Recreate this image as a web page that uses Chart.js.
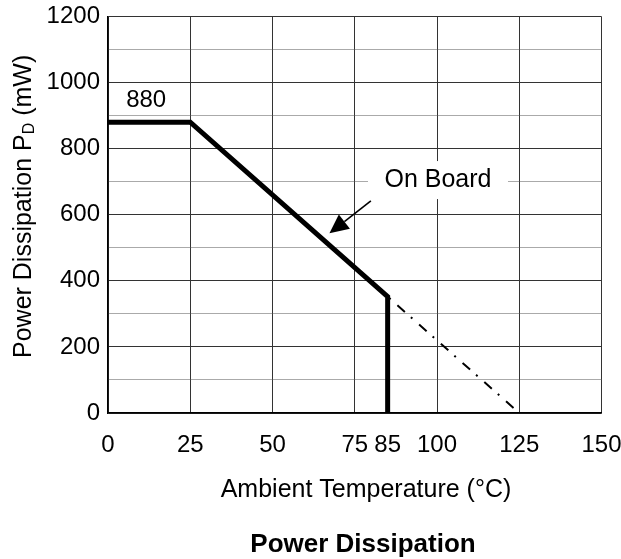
<!DOCTYPE html>
<html>
<head>
<meta charset="utf-8">
<script src="https://cdn.jsdelivr.net/npm/chart.js@4.4.0/dist/chart.umd.min.js"></script>
<style>
  html, body { margin: 0; padding: 0; background: #fff; }
  #wrap { width: 621px; height: 559px; position: relative; }
</style>
</head>
<body>
<div id="wrap"><canvas id="pdChart"></canvas></div>
<script>
const tempTicks = [0, 25, 50, 75, 85, 100, 125, 150];
const onBoardTemp = [0, 25, 85, 85];
const onBoardPower = [880, 880, 352, 0];
const deratingTemp = [85, 125];
const deratingPower = [352, 0];

const FONT = 'Liberation Sans, Arial, Helvetica, sans-serif';

// annotation anchors (data units)
const boardLabel = { text: 'On Board', x: 100.3, y: 705 };
const arrowFrom = { x: 79.9, y: 642 };
const arrowTo = { x: 67.3, y: 544 };
const peakLabel = { text: '880', x: 11.6, y: 945 };

const toPoints = (xs, ys) => xs.map((v, i) => ({ x: v, y: ys[i] }));

const textPlugin = {
    id: 'texts',
    afterDatasetsDraw(chart) {
        const { ctx, scales: { x, y } } = chart;
        ctx.save();
        ctx.fillStyle = '#000';
        ctx.strokeStyle = '#000';

        // On Board label with white box over the grid
        const bx = x.getPixelForValue(boardLabel.x);
        const by = y.getPixelForValue(boardLabel.y);
        ctx.fillStyle = '#fff';
        ctx.fillRect(bx - 70, by - 19, 140, 38);
        ctx.fillStyle = '#000';
        ctx.font = '25px ' + FONT;
        ctx.textAlign = 'center';
        ctx.textBaseline = 'middle';
        ctx.fillText(boardLabel.text, bx, by);

        // arrow
        const x1 = x.getPixelForValue(arrowFrom.x), y1 = y.getPixelForValue(arrowFrom.y);
        const x2 = x.getPixelForValue(arrowTo.x), y2 = y.getPixelForValue(arrowTo.y);
        const ang = Math.atan2(y2 - y1, x2 - x1);
        const headLen = 19, headW = 9;
        const hx = x2 - headLen * Math.cos(ang), hy = y2 - headLen * Math.sin(ang);
        ctx.lineWidth = 1.6;
        ctx.beginPath();
        ctx.moveTo(x1, y1);
        ctx.lineTo(hx, hy);
        ctx.stroke();
        ctx.beginPath();
        ctx.moveTo(x2, y2);
        ctx.lineTo(hx + headW * Math.sin(ang), hy - headW * Math.cos(ang));
        ctx.lineTo(hx - headW * Math.sin(ang), hy + headW * Math.cos(ang));
        ctx.closePath();
        ctx.fill();

        // 880 label
        ctx.font = '24px ' + FONT;
        ctx.fillText(peakLabel.text, x.getPixelForValue(peakLabel.x), y.getPixelForValue(peakLabel.y));

        // x axis title and chart title
        ctx.font = '25px ' + FONT;
        ctx.fillText('Ambient Temperature (\u00B0C)', 366, 490);
        ctx.font = 'bold 26px ' + FONT;
        ctx.fillText('Power Dissipation', 363, 545);

        // y axis title with subscript
        ctx.translate(31, 358);
        ctx.rotate(-Math.PI / 2);
        ctx.textAlign = 'left';
        ctx.textBaseline = 'alphabetic';
        ctx.font = '25px ' + FONT;
        let pos = 0;
        const part1 = 'Power Dissipation P';
        ctx.fillText(part1, pos, 0);
        pos += ctx.measureText(part1).width;
        ctx.font = '16px ' + FONT;
        ctx.fillText('D', pos, 3);
        pos += ctx.measureText('D').width;
        ctx.font = '25px ' + FONT;
        ctx.fillText(' (mW)', pos, 0);
        ctx.restore();
    }
};

window.addEventListener('load', () => {
    const canvas = document.getElementById('pdChart');
    new Chart(canvas.getContext('2d'), {
        type: 'scatter',
        data: {
            datasets: [{
                data: toPoints(onBoardTemp, onBoardPower),
                showLine: true,
                borderColor: '#000',
                borderWidth: 5,
                borderJoinStyle: 'miter',
                pointRadius: 0,
                order: 1
            }, {
                data: toPoints(deratingTemp, deratingPower),
                showLine: true,
                borderColor: '#000',
                borderWidth: 2,
                borderDash: [10, 8, 2, 9],
                borderDashOffset: 16,
                pointRadius: 0,
                order: 2
            }]
        },
        options: {
            responsive: true,
            maintainAspectRatio: false,
            animation: false,
            layout: { padding: 0 },
            plugins: { legend: { display: false }, tooltip: { enabled: false } },
            scales: {
                x: {
                    type: 'linear',
                    min: 0,
                    max: 150,
                    afterBuildTicks: (scale) => { scale.ticks = tempTicks.map(v => ({ value: v })); },
                    afterFit: (scale) => {
                        scale.height = 146;
                        scale.paddingLeft = 0;
                        scale.paddingRight = 19.5;
                    },
                    ticks: {
                        autoSkip: false,
                        maxRotation: 0,
                        padding: 18,
                        color: '#000',
                        font: { size: 24, family: FONT }
                    },
                    grid: {
                        drawTicks: false,
                        color: (ctx) => (ctx.tick && ctx.tick.value === 85) ? 'rgba(0,0,0,0)' : '#333',
                        lineWidth: 1
                    },
                    border: { color: '#000', width: 1.5 }
                },
                y: {
                    min: 0,
                    max: 1200,
                    afterFit: (scale) => {
                        scale.width = 108;
                        scale.paddingTop = 16.5;
                        scale.paddingBottom = 0;
                    },
                    ticks: {
                        stepSize: 100,
                        padding: 8,
                        color: '#000',
                        font: { size: 24, family: FONT },
                        callback: (v) => (v % 200 === 0 ? v : '')
                    },
                    grid: {
                        drawTicks: false,
                        color: (ctx) => (ctx.tick && ctx.tick.value % 200 !== 0) ? '#555' : '#333',
                        lineWidth: 1
                    },
                    border: {
                        color: '#000',
                        width: 1.5,
                        dash: (ctx) => (ctx.tick && ctx.tick.value % 200 !== 0) ? [1, 1] : []
                    }
                }
            }
        },
        plugins: [textPlugin]
    });
});
</script>
</body>
</html>
